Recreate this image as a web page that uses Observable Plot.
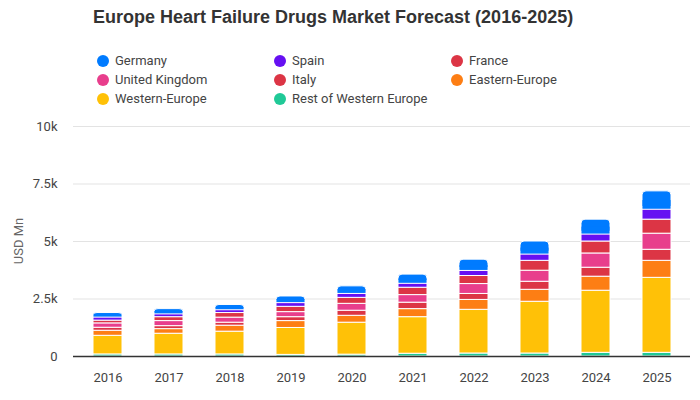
<!DOCTYPE html>
<html><head><meta charset="utf-8">
<script src="https://cdn.jsdelivr.net/npm/d3@7"></script>
<script src="https://cdn.jsdelivr.net/npm/@observablehq/plot@0.6"></script>
<style>
body{margin:0;background:#fff;font-family:Roboto,"Liberation Sans",Arial,sans-serif;}
#wrap{position:relative;width:700px;height:400px;overflow:hidden}
#plot{position:absolute;left:0;top:0}
#title{position:absolute;top:7px;left:93px;white-space:nowrap;font-family:"Liberation Sans",Arial,sans-serif;font-weight:bold;font-size:18px;color:#333}
.lg{position:absolute;font-size:13px;color:#444;white-space:nowrap;line-height:16px}
.dot{position:absolute;width:12px;height:12px;border-radius:50%}
#ylab{position:absolute;left:18px;top:241px;transform:translate(-50%,-50%) rotate(-90deg);font-size:13px;color:#666;white-space:nowrap}
</style></head><body>
<div id="wrap"><div id="plot"></div><div id="title">Europe Heart Failure Drugs Market Forecast (2016-2025)</div><div id="legend"></div><div id="ylab">USD Mn</div></div>
<script>
const years = ["2016","2017","2018","2019","2020","2021","2022","2023","2024","2025"];
const series = ["Rest of Western Europe","Western-Europe","Eastern-Europe","Italy","United Kingdom","France","Spain","Germany"];
const colors = ["#20c997","#ffc107","#fd7e14","#dc3545","#e83e8c","#dc3545","#6610f2","#007bff"];
const legendOrder = ["Germany","Spain","France","United Kingdom","Italy","Eastern-Europe","Western-Europe","Rest of Western Europe"];
const restWE  = [90, 90, 90, 70, 80, 120,130,130,160,160];
const western = [810,900,990,1170,1390,1590,1900,2250,2700,3260];
const eastern = [220,200,260,300,300,350,430,520,610,740];
const italy   = [130,130,130,170,220,280,260,350,390,480];
const uk      = [190,220,220,220,300,330,430,480,620,700];
const france  = [120,170,200,230,260,320,350,430,520,610];
const spain   = [130,120,120,160,170,170,220,270,300,430];
const germany = [200,230,230,290,330,400,490,570,650,800];
const yTicks = [0,2500,5000,7500,10000];
const yTickLabels = ["0","2.5k","5k","7.5k","10k"];

const valuesBySeries = [restWE,western,eastern,italy,uk,france,spain,germany];
const rows = [];
years.forEach((yr,i)=>{
  let acc = 0;
  series.forEach((s,j)=>{
    const v = valuesBySeries[j][i];
    rows.push({year:yr, series:s, y1:acc, y2:acc+v});
    acc += v;
  });
});
const colorOf = Object.fromEntries(series.map((s,i)=>[s,colors[i]]));
const germ = rows.filter(d=>d.series==="Germany");
const others = rows.filter(d=>d.series!=="Germany");

const chart = Plot.plot({
  width:700, height:400,
  marginTop:126, marginBottom:44, marginLeft:73, marginRight:10,
  style:{fontFamily:'Roboto,"Liberation Sans",Arial,sans-serif', fontSize:"13px", color:"#444", background:"transparent"},
  x:{domain:years, paddingInner:0.53, paddingOuter:0.265},
  y:{domain:[0,10000]},
  marks:[
    Plot.gridY(yTicks, {stroke:"#e3e3e3", strokeOpacity:1}),
    Plot.axisY(yTicks, {tickSize:0, tickPadding:16, tickFormat:(d,i)=>yTickLabels[yTicks.indexOf(d)], label:null}),
    Plot.axisX({tickSize:0, tickPadding:16, label:null}),
    Plot.barY(germ, {x:"year", y1:"y1", y2:"y2", fill:d=>colorOf[d.series], stroke:"white", strokeWidth:1, rx:4}),
    Plot.barY(germ, {x:"year", y1:"y1", y2:d=>(d.y1+d.y2)/2, fill:d=>colorOf[d.series], insetLeft:0.5, insetRight:0.5}),
    Plot.barY(others, {x:"year", y1:"y1", y2:"y2", fill:d=>colorOf[d.series], stroke:"white", strokeWidth:1}),
    Plot.ruleY([0], {stroke:"#333", strokeWidth:1.5})
  ]
});
document.getElementById("plot").appendChild(chart);

const lg = document.getElementById("legend");
const colX = [103,280,457], rowY = [61,80,99];
legendOrder.forEach((s,i)=>{
  const cx = colX[i%3], cy = rowY[Math.floor(i/3)];
  const dot = document.createElement("div");
  dot.className="dot"; dot.style.left=(cx-6)+"px"; dot.style.top=(cy-6)+"px"; dot.style.background=colorOf[s];
  lg.appendChild(dot);
  const t = document.createElement("div");
  t.className="lg"; t.style.left=(cx+12)+"px"; t.style.top=(cy-8)+"px"; t.textContent=s;
  lg.appendChild(t);
});
</script>
</body></html>
